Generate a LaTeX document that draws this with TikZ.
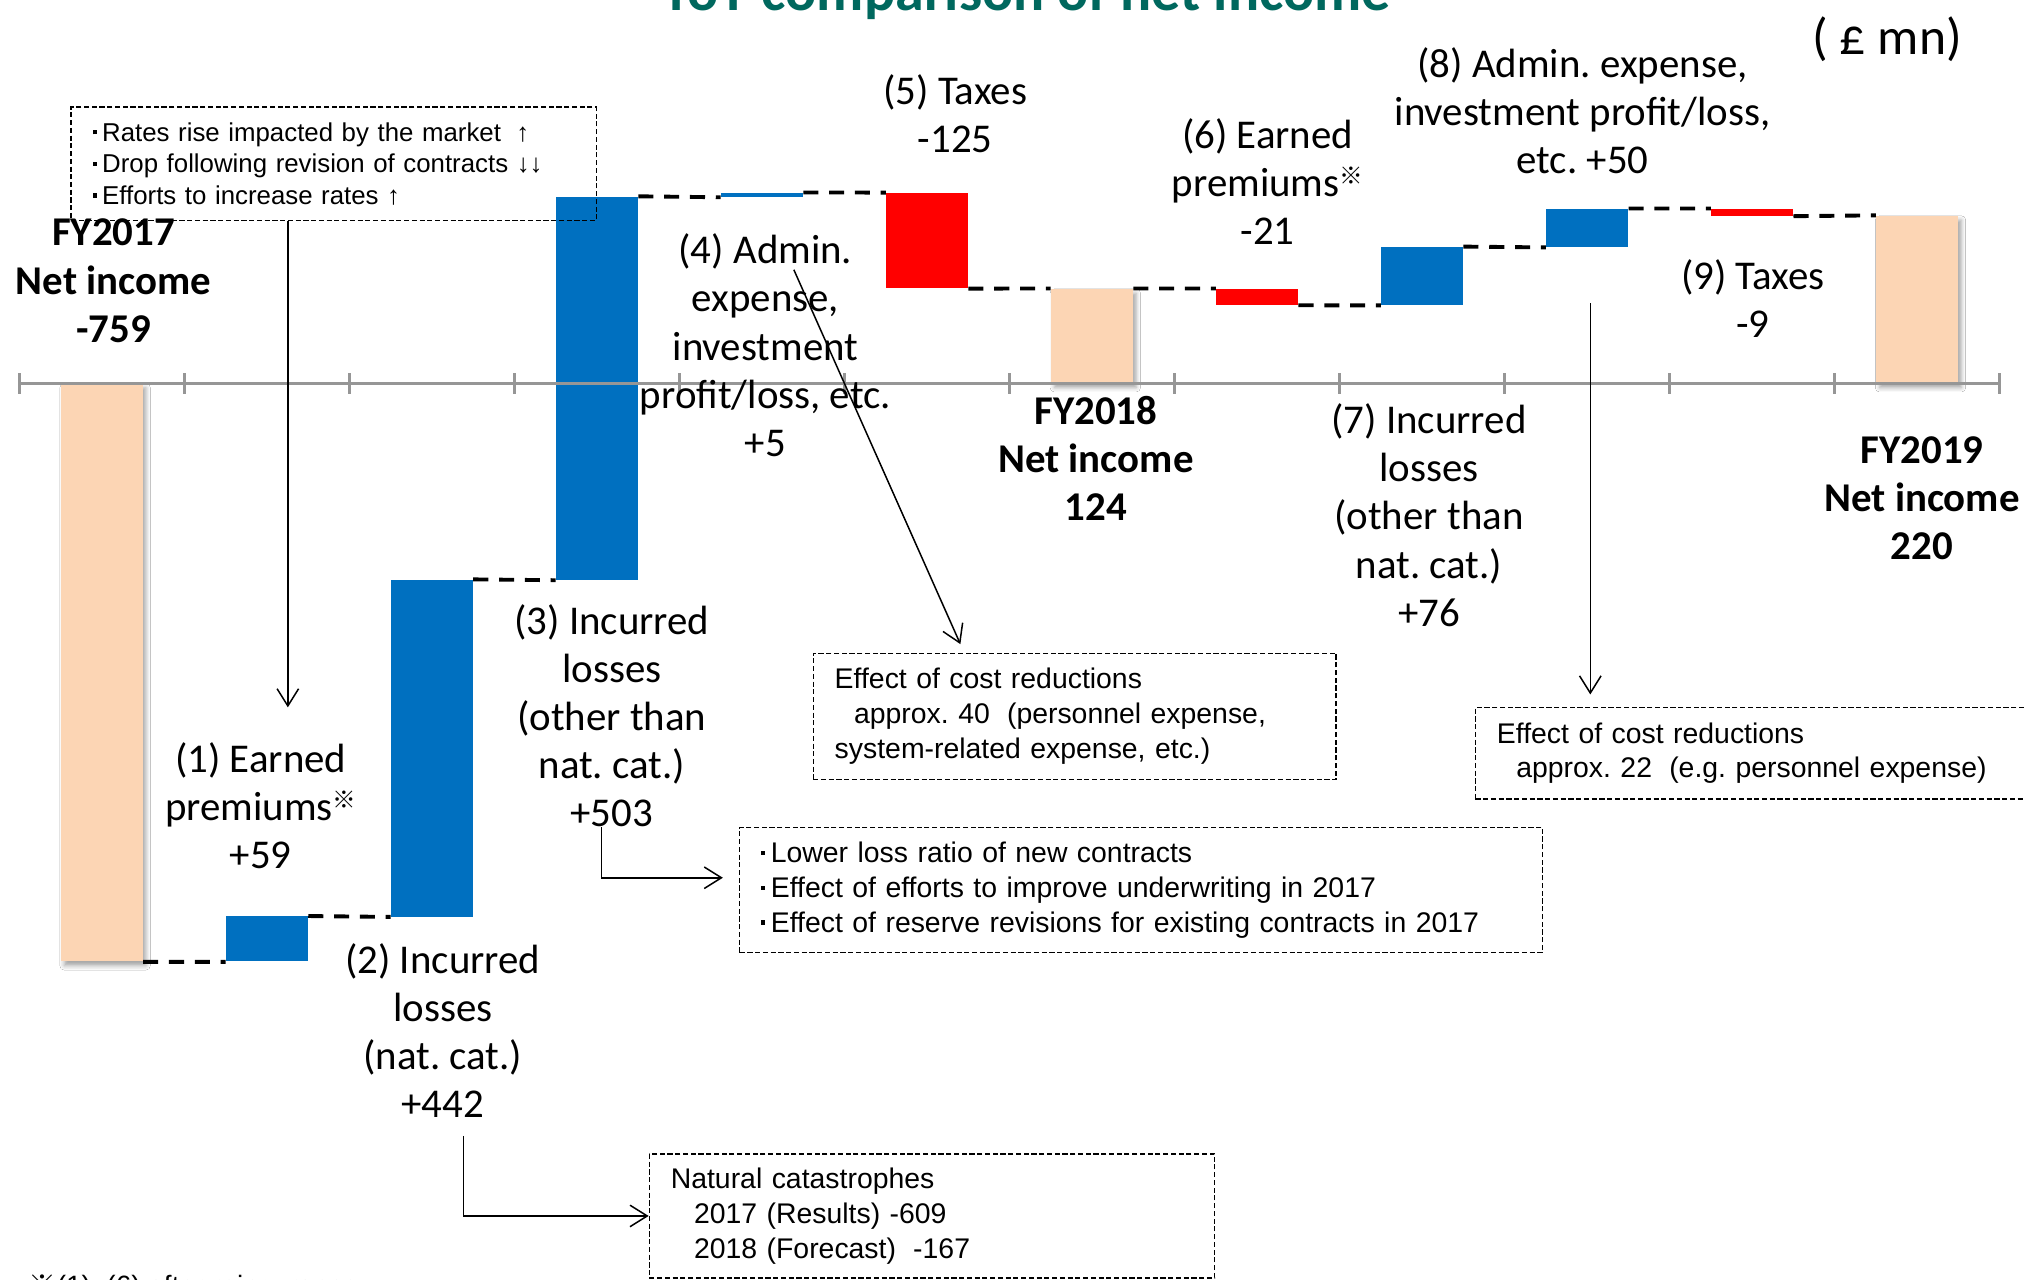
\documentclass[tikz,border=0pt]{standalone}
\usepackage{fontspec}
\setmainfont{Carlito}
\newfontfamily\calib{Carlito}
\newfontfamily\arial{Liberation Sans}
\newfontfamily\cjkjp{Noto Sans CJK JP}
\usetikzlibrary{arrows.meta,shadows.blur}
\definecolor{peach}{HTML}{FCD5B4}
\definecolor{barblue}{HTML}{0070C0}
\definecolor{barred}{HTML}{FF0000}
\definecolor{titleteal}{RGB}{0,104,94}
\definecolor{axisgray}{HTML}{969696}
\newcommand{\kome}{{\cjkjp ※}}
\newcommand{\komesup}{\raisebox{5.5pt}{\cjkjp\fontsize{11pt}{11pt}\selectfont ※}}
\newcommand{\bul}{\raisebox{0.27em}{\rule{1.9pt}{1.9pt}}\hspace{2.6pt}}
\frenchspacing
\begin{document}
\begin{tikzpicture}[x=0.6pt,y=-0.6pt,
  bar/.style={rectangle,inner sep=0pt,minimum width=38pt,draw=none},
  total/.style={bar,fill=peach,blur shadow={shadow xshift=1.5pt,shadow yshift=-2pt,shadow blur radius=2pt,shadow opacity=35}},
  up/.style={bar,fill=barblue},
  down/.style={bar,fill=barred},
  conn/.style={line width=1.8pt,dash pattern=on 7pt off 5pt},
  lbl/.style={font=\calib\fontsize{19pt}{22.4pt}\selectfont,align=center,inner sep=0pt},
  blbl/.style={lbl,font=\calib\bfseries\fontsize{19pt}{22.4pt}\selectfont},
  note/.style={draw,line width=0.6pt,dash pattern=on 2.4pt off 1.2pt,inner xsep=10pt,inner ysep=0pt,align=left,font=\arial\frenchspacing\fontsize{13.2pt}{16.2pt}\selectfont},
  arr/.style={line width=0.7pt,-{Straight Barb[length=8pt,width=10pt]}},
]
\useasboundingbox (0,0) rectangle (1568,991);
\fill[white] (0,0) rectangle (1568,991);

% bars
\node[total,minimum height=268.7pt] (b0) at (78.9,520.9) {};
\node[up,minimum height=20.9pt] (b1) at (206.8,727.4) {};
\node[up,minimum height=156.5pt] (b2) at (334.6,579.6) {};
\node[up,minimum height=178.05pt] (b3) at (462.5,300.8) {};
\node[up,minimum height=1.8pt] (b4) at (590.3,151) {};
\node[down,minimum height=44.25pt] (b5) at (718.2,186.4) {};
\node[total,minimum height=43.9pt] (b6) at (846.0,260.4) {};
\node[down,minimum height=7.43pt] (b7) at (973.9,230.0) {};
\node[up,minimum height=26.9pt] (b8) at (1101.7,213.8) {};
\node[up,minimum height=17.7pt] (b9) at (1229.6,176.6) {};
\node[down,minimum height=3.19pt] (b10) at (1357.4,164.5) {};
\node[total,minimum height=77.9pt] (b11) at (1485.3,232.1) {};

% axis
\draw[axisgray,line width=1.3pt] (15,297) -- (1550,297);
\foreach \i in {0,...,12} \draw[axisgray,line width=1.3pt] ({15+127.85*\i},289) -- ({15+127.85*\i},305);

% connectors
\draw[conn] (b0.south east) -- (b1.south west);
\draw[conn] (b1.north east) -- (b2.south west);
\draw[conn] (b2.north east) -- (b3.south west);
\draw[conn] (b3.north east) -- (b4.south west);
\draw[conn] (b4.north east) -- (b5.north west);
\draw[conn] (b5.south east) -- (b6.north west);
\draw[conn] (b6.north east) -- (b7.north west);
\draw[conn] (b7.south east) -- (b8.south west);
\draw[conn] (b8.north east) -- (b9.south west);
\draw[conn] (b9.north east) -- (b10.north west);
\draw[conn] (b10.south east) -- (b11.north west);

% labels
\node[font=\calib\bfseries\fontsize{27pt}{27pt}\selectfont,text=titleteal,anchor=base,inner sep=0pt] (title) at (795,8) {YoY comparison of net income};
\node[font=\calib\fontsize{24pt}{24pt}\selectfont,inner sep=0pt] (unit) at (1462,30) {( £ mn)};
\node[blbl] (t0) at (88,217.5) {FY2017\\Net income\\-759};
\node[lbl] (t1) at (202,624) {(1) Earned\\premiums\komesup\\+59};
\node[lbl] (t2) at (343,798.5) {(2) Incurred\\losses\\(nat. cat.)\\+442};
\node[lbl] (t3) at (474,554.5) {(3) Incurred\\losses\\(other than\\nat. cat.)\\+503};
\node[lbl] (t4) at (593,267.5) {(4) Admin.\\expense,\\investment\\profit/loss, etc.\\+5};
\node[lbl] (t5) at (740,88) {(5) Taxes\\-125};
\node[blbl] (t6) at (849,355) {FY2018\\Net income\\124};
\node[lbl] (t7) at (982,140.5) {(6) Earned\\premiums\komesup\\-21};
\node[lbl] (t8) at (1107,399) {(7) Incurred\\losses\\(other than\\nat. cat.)\\+76};
\node[lbl] (t9) at (1226,86) {(8) Admin. expense,\\investment profit/loss,\\etc. +50};
\node[lbl] (t10) at (1358,231.5) {(9) Taxes\\-9};
\node[blbl] (t11) at (1489,386) {FY2019\\Net income\\220};

% note boxes
\node[note,minimum width=244.2pt,minimum height=52.8pt,text width=224.2pt,font=\arial\frenchspacing\fontsize{12pt}{14.7pt}\selectfont] (nA) at (258.5,127) {\bul Rates rise impacted by the market\hspace{0.6em}↑\\\bul Drop following revision of contracts ↓↓\\\bul Efforts to increase rates ↑};
\node[note,minimum width=243pt,minimum height=58.8pt,text width=223pt] (nB) at (832.5,555) {Effect of cost reductions\\\hspace*{9pt}approx. 40\hspace{8pt}(personnel expense,\\system-related expense, etc.)};
\node[note,minimum width=373.2pt,minimum height=58.2pt,text width=353.2pt] (nC) at (884,689.5) {\bul Lower loss ratio of new contracts\\\bul Effect of efforts to improve underwriting in 2017\\\bul Effect of reserve revisions for existing contracts in 2017};
\node[note,minimum width=268.2pt,minimum height=42.6pt,text width=248.2pt] (nD) at (1366.5,583.5) {Effect of cost reductions\\\hspace*{9pt}approx. 22\hspace{8pt}(e.g. personnel expense)};
\node[note,minimum width=262.8pt,minimum height=57.6pt,text width=242.8pt] (nE) at (722,942) {Natural catastrophes\\\hspace*{10.8pt}2017 (Results) -609\\\hspace*{10.8pt}2018 (Forecast)\hspace{8pt}-167};

% arrows
\coordinate (a1e) at (223,548);
\draw[arr] (nA.south -| a1e) -- (a1e);
\coordinate (a2s) at (615,209);
\coordinate (a2e) at (744,499);
\draw[arr] (a2s) -- (a2e);
\coordinate (a3s) at (466,641);
\coordinate (a3e) at (560,680);
\draw[arr] (a3s) |- (a3e);
\coordinate (a4s) at (359,880);
\draw[arr] (a4s) |- (nE.west);
\coordinate (a5s) at (1232,235);
\coordinate (a5e) at (1232,538);
\draw[arr] (a5s) -- (a5e);

% footnote (mostly below the page edge, as in the reference)
\node[anchor=base west,inner sep=0pt,font=\arial\fontsize{13pt}{13pt}\selectfont] (fn) at (22,1004) {\kome(1), (6) after reinsurance};
\end{tikzpicture}
\end{document}
